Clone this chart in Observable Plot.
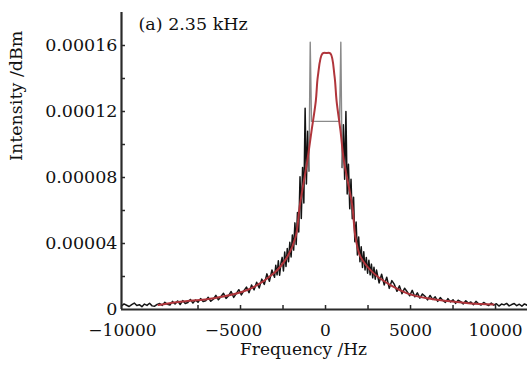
<!DOCTYPE html>
<html><head><meta charset="utf-8">
<script src="https://cdn.jsdelivr.net/npm/d3@7"></script>
<script src="https://cdn.jsdelivr.net/npm/@observablehq/plot@0.6"></script>
<style>
body{margin:0;background:#fff;}
#chart{width:527px;height:369px;}
</style></head><body><div id="chart"></div>
<script>
// Measured spectrum: frequency (Hz) and intensity (units of 1e-6)
const frequency = [
-12000,-11850,-11700,-11550,-11400,-11250,-11100,-10950,-10800,-10650,-10500,-10350,-10200,-10050,-9900,
-9750,-9600,-9450,-9300,-9150,-9000,-8850,-8700,-8550,
-8400,-8250,-8100,-7950,-7800,-7650,-7500,-7350,-7200,-7050,-6900,-6750,-6600,
-6450,-6300,-6150,-6000,-5850,-5700,-5550,-5400,-5250,-5100,-4950,-4800,-4650,
-4500,-4350,-4200,-4050,-3900,-3750,-3600,-3450,-3300,-3150,
-3000,-2925,-2850,-2775,-2700,-2625,-2550,-2475,-2400,-2325,-2250,-2175,-2100,-2025,
-1950,-1875,-1800,-1725,-1650,-1575,-1500,-1425,-1350,-1275,-1200,-1125,-1050,-975,
-900,
-825,-750,-675,-600,-525,-450,-375,-300,-225,-150,-75,0,75,150,225,300,375,450,525,600,675,750,825,
900,
975,1050,1125,1200,1275,1350,1425,1500,1575,1650,1725,1800,1875,1950,
2025,2100,2175,2250,2325,2400,2475,2550,2625,2700,2775,2850,2925,3000,
3150,3300,3450,3600,3750,3900,4050,4200,4350,4500,4650,4800,4950,5100,5250,5400,5550,5700,5850,6000,
6150,6300,6450,6600,6750,6900,7050,7200,7350,7500,7650,7800,7950,8100,8250,8400,8550,8700,8850,9000,
9150,9300,9450,9600,9750,9900,10050,10200,10350,10500,10650,10800,10950,11100,11250,11400,11550,11700,11850,12000];
const intensity_e6 = [
2.1,3.4,2.6,1.8,3.0,3.9,2.4,2.9,1.7,3.3,2.5,3.8,2.2,2.0,3.1,
3.6,2.5,4.4,3.1,2.7,4.9,3.3,5.2,3.0,
5.4,3.6,4.2,6.1,3.9,5.8,4.4,6.6,4.8,5.3,7.4,5.0,6.2,
8.6,5.9,7.9,9.8,6.7,8.4,10.9,7.3,9.6,12.0,8.8,11.4,13.6,
10.2,14.8,11.9,16.5,13.0,18.4,15.2,21.6,17.1,24.0,
19.5,26.8,21.0,29.5,20.8,27.9,31.6,23.4,34.8,26.1,36.9,29.0,40.7,31.8,
45.2,36.0,52.5,39.4,58.8,47.0,80.5,55.2,86.0,64.5,122,76,108,84,
162,
114,114,114,114,114,114,114,114,114,114,114,114,114,114,114,114,114,114,114,114,114,114,114,
162,
86,112,79,120,70,88,61,79,55,68,41,53,33,44,
29,38,25.5,35,24.0,31.5,22.0,29.8,21.0,27.5,19.2,25.6,18.4,23.9,
16.1,21.4,14.9,19.6,12.8,17.5,15.2,11.0,14.3,9.6,12.9,10.8,8.3,11.6,7.7,10.1,6.9,9.4,8.0,5.8,
8.5,6.1,7.7,4.9,7.2,5.5,4.3,6.6,4.6,5.9,3.7,5.6,4.8,3.4,5.3,3.9,4.6,2.9,4.9,3.5,
2.7,4.3,3.2,2.4,3.9,2.6,3.5,2.1,3.3,2.8,3.7,2.2,3.0,3.6,2.3,3.2,2.0,3.4,2.6,3.1];
// Lorentzian fit curve (Hz, units of 1e-6)
const fitFrequency = [-9820,-8530,-6570,-4610,-3040,-2250,-1760,-1510,-1070,-820,-570,-450,-180,60,290,530,650,880,1080,1570,1760,2060,2840,3820,4810,5980,7160,8530,9880];
const fit_e6 = [2.7,4.7,6.8,11.8,21.9,31.9,44.0,63.1,90.3,108.4,126.5,141.4,155.1,155.5,155.1,141.4,126.5,108.4,90.3,63.1,44.0,31.9,21.9,14.8,9.8,6.8,5.1,3.7,3.0];

const xTicks = [-7500,-5000,-2500,0,2500,5000,7500,10000];
const yTicks = [0.00002,0.00004,0.00006,0.00008,0.0001,0.00012,0.00014,0.00016];
const yLabels = [0,0.00004,0.00008,0.00012,0.00016];
const title = "(a) 2.35 kHz";
const xTitle = "Frequency /Hz";
const yTitle = "Intensity /dBm";

const data = frequency.map((f, i) => ({f, v: intensity_e6[i] * 1e-6}));
const leftPart = data.filter(d => d.f <= -975);
const centerPart = data.filter(d => d.f >= -975 && d.f <= 975);
const rightPart = data.filter(d => d.f >= 975);
const fit = fitFrequency.map((f, i) => ({f, v: fit_e6[i] * 1e-6}));

const font = "DejaVu Serif";
const chart = Plot.plot({
  width: 527, height: 369,
  marginLeft: 121, marginRight: 0, marginTop: 12, marginBottom: 60,
  style: {fontFamily: font, fontSize: "17px", background: "#fff", color: "#111", overflow: "visible"},
  x: {domain: [-12000, 11880], label: null},
  y: {domain: [0, 0.00018], label: null},
  marks: [
    Plot.line(leftPart, {x: "f", y: "v", stroke: "#141414", strokeWidth: 1.5}),
    Plot.line(rightPart, {x: "f", y: "v", stroke: "#141414", strokeWidth: 1.5}),
    Plot.line(centerPart, {x: "f", y: "v", stroke: "#8a8a8a", strokeWidth: 1.4}),
    Plot.line(fit, {x: "f", y: "v", stroke: "#b0353b", strokeWidth: 2, curve: "catmull-rom"}),
    Plot.ruleY([0], {stroke: "#2a2a2a", strokeWidth: 2}),
    Plot.ruleX([-12000], {stroke: "#2a2a2a", strokeWidth: 2.2}),
    Plot.axisX({ticks: xTicks, tickSize: -4, tickFormat: () => "", stroke: "#2a2a2a", strokeWidth: 1.5}),
    Plot.axisX({ticks: [0, 5000, 10000], tickSize: 0, tickPadding: 14, tickFormat: d => String(d), fontSize: 17}),
    Plot.axisX({ticks: [-5000], tickSize: 0, tickPadding: 14, dx: -7, tickFormat: d => "\u2212" + Math.abs(d), fontSize: 17}),
    Plot.axisX({ticks: [-10000], tickSize: 0, tickPadding: 14, dx: -33, tickFormat: d => "\u2212" + Math.abs(d), fontSize: 17}),
    Plot.axisY({ticks: yTicks, tickSize: -4, tickFormat: () => "", stroke: "#2a2a2a", strokeWidth: 1.5}),
    Plot.axisY({ticks: yLabels, tickSize: 0, tickPadding: 4, tickFormat: d => d === 0 ? "0" : d.toFixed(5), fontSize: 17.5}),
    Plot.text([xTitle], {text: d => d, frameAnchor: "bottom", dx: -21, dy: 45, fontSize: 17}),
    Plot.text([yTitle], {text: d => d, frameAnchor: "left", dx: -105.5, rotate: -90, fontSize: 17.5}),
    Plot.text([title], {text: d => d, frameAnchor: "top-left", dx: 17, dy: 5, textAnchor: "start", fontSize: 17.5})
  ]
});
document.getElementById("chart").append(chart);
</script></body></html>
